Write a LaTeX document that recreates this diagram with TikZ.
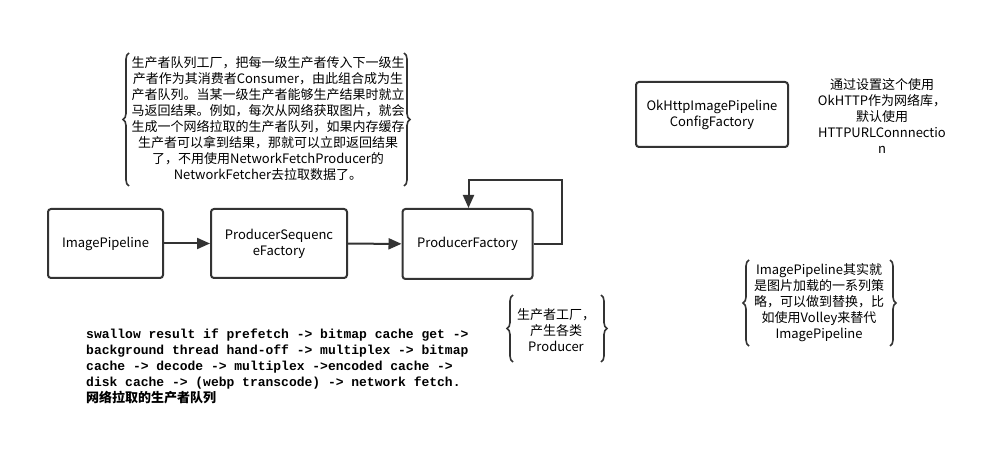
\documentclass[tikz,border=0pt]{standalone}
\usepackage{fontspec}
\setmainfont{Noto Sans CJK SC}
\setmonofont{Liberation Mono}
\usetikzlibrary{arrows.meta}
\usetikzlibrary{decorations.pathreplacing}
\definecolor{linegray}{HTML}{333333}
\tikzset{
  pbox/.style={draw=linegray, line width=2pt, rounded corners=3pt,
    align=center, inner sep=2pt, font=\fontsize{13}{16}\selectfont},
  note/.style={align=center, inner sep=0pt, font=\fontsize{13}{16}\selectfont},
  curly/.style={draw=linegray, line width=1.6pt, decorate,
    decoration={brace, amplitude=6pt}},
  flow/.style={draw=linegray, line width=2pt,
    -{Triangle[length=13pt, width=11pt, fill=linegray]}},
}
\begin{document}
\begin{tikzpicture}[x=1pt, y=-1pt]
\useasboundingbox[fill=white] (0,0) rectangle (988,462);
% factories
\node[pbox, minimum width=115pt, minimum height=69pt] (imgpipe) at (105.5,243.5) {ImagePipeline};
\node[pbox, minimum width=136pt, minimum height=69pt] (seqfac) at (279,243.5) {ProducerSequenc\\eFactory};
\node[pbox, minimum width=130pt, minimum height=70pt] (prodfac) at (467.5,244) {ProducerFactory};
\node[pbox, minimum width=152pt, minimum height=65pt] (okhttp) at (712,114.5) {OkHttpImagePipeline\\ConfigFactory};
\draw[flow] (imgpipe) -- (seqfac);
\draw[flow] (seqfac) -- (prodfac);
\coordinate (loopr) at (562,180);
\draw[flow] (prodfac.east) -| (loopr) -| ([xshift=1pt]prodfac.north);
% notes
\node[note] (seqnote) at (268,119) {生产者队列工厂，把每一级生产者传入下一级生\\
产者作为其消费者Consumer，由此组合成为生\\
产者队列。当某一级生产者能够生产结果时就立\\
马返回结果。例如，每次从网络获取图片，就会\\
生成一个网络拉取的生产者队列，如果内存缓存\\
生产者可以拿到结果，那就可以立即返回结果\\
了，不用使用NetworkFetchProducer的\\
NetworkFetcher去拉取数据了。};
\draw[curly] (129,186) -- (129,53);
\draw[curly] (404,53) -- (404,186);
\node[note] (httpnote) at (882,116) {通过设置这个使用\\OkHTTP作为网络库，\\默认使用\\HTTPURLConnnectio\\n};
\node[note] (facnote) at (556,330) {生产者工厂，\\产生各类\\Producer};
\draw[curly] (513,362) -- (513,295);
\draw[curly] (601,295) -- (601,362);
\node[note] (pipenote) at (819,303) {ImagePipeline其实就\\是图片加载的一系列策\\略，可以做到替换，比\\如使用Volley来替代\\ImagePipeline};
\draw[curly] (749,346) -- (749,260);
\draw[curly] (890,260) -- (890,346);
% network fetch sequence
\node[anchor=north west, align=left, inner sep=0pt, font=\fontsize{13}{16}\selectfont] (netseq) at (86,329)
{\ttfamily\bfseries swallow result if prefetch -> bitmap cache get ->\\
\ttfamily\bfseries background thread hand-off -> multiplex -> bitmap\\
\ttfamily\bfseries cache -> decode -> multiplex ->encoded cache ->\\
\ttfamily\bfseries disk cache -> (webp transcode) -> network fetch.\\
\bfseries 网络拉取的生产者队列};
\end{tikzpicture}
\end{document}
